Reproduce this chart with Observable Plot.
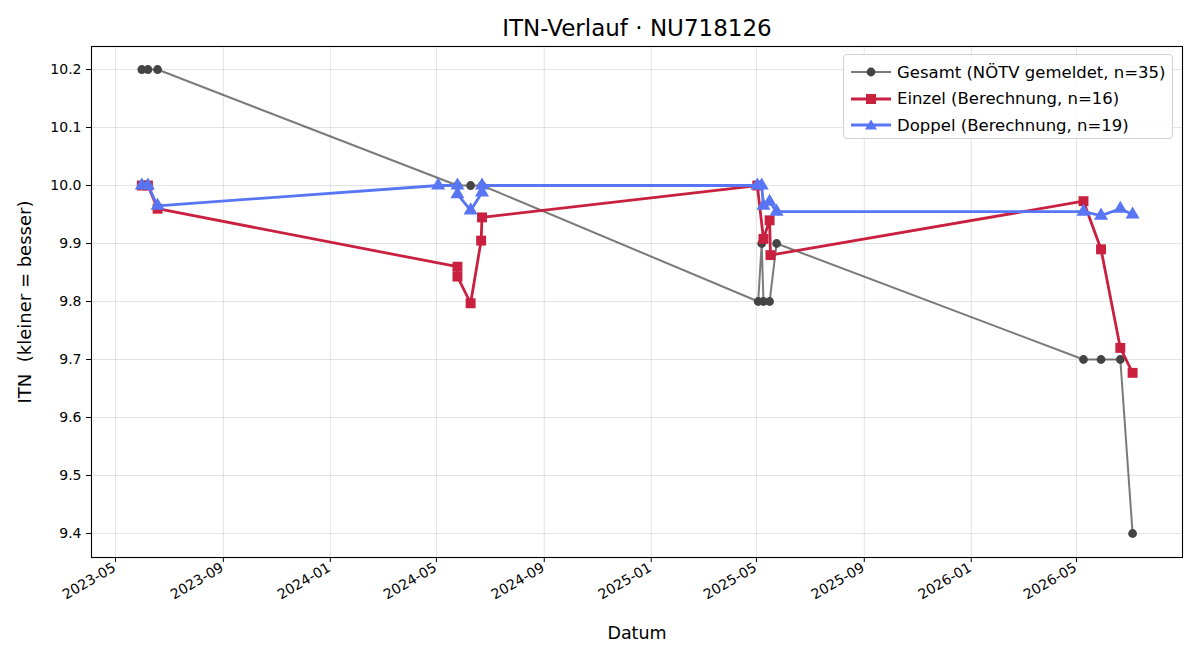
<!DOCTYPE html>
<html>
<head>
<meta charset="utf-8">
<script src="https://cdn.jsdelivr.net/npm/d3@7"></script>
<script src="https://cdn.jsdelivr.net/npm/@observablehq/plot@0.6"></script>
<style>
  html, body { margin: 0; padding: 0; background: white; }
  #wrap { position: relative; width: 1200px; height: 660px; font-family: "DejaVu Sans", sans-serif; }
  #wrap svg text { white-space: pre; }
  #legend {
    position: absolute; left: 843px; top: 54px; width: 330px; height: 85px;
    box-sizing: border-box; border: 1px solid #d0d0d0; border-radius: 4px;
    background: rgba(255,255,255,0.85); padding: 4px 0 0 7px;
    font-family: "DejaVu Sans", sans-serif; font-size: 16.5px; color: #000;
  }
  #legend .row { display: flex; align-items: center; height: 26.5px; }
  #legend .row svg { width: 40px; height: 16px; margin-right: 6px; flex: none; }
</style>
</head>
<body>
<div id="wrap"></div>
<script>
// ---------- data ----------
const titleText = "ITN-Verlauf · NU718126";
const xLabel = "Datum";
const yLabel = "ITN  (kleiner = besser)";

const gesamtName = "Gesamt (NÖTV gemeldet, n=35)";
const gesamtDates = ["2023-05-31","2023-06-07","2023-06-18",
  "2024-05-25","2024-06-09","2024-06-22",
  "2025-05-03","2025-05-07","2025-05-09","2025-05-16","2025-05-24",
  "2026-05-09","2026-05-29","2026-06-20","2026-07-04"];
const gesamtValues = [10.2,10.2,10.2,
  10.0,10.0,10.0,
  9.8,9.9,9.8,9.8,9.9,
  9.7,9.7,9.7,9.4];

const einzelName = "Einzel (Berechnung, n=16)";
const einzelDates = ["2023-05-31","2023-06-07","2023-06-18",
  "2024-05-25","2024-05-25","2024-06-09","2024-06-21","2024-06-22",
  "2025-05-02","2025-05-09","2025-05-16","2025-05-17",
  "2026-05-09","2026-05-29","2026-06-20","2026-07-04"];
const einzelValues = [10.0,10.0,9.96,
  9.86,9.843,9.797,9.905,9.945,
  10.0,9.908,9.94,9.88,
  9.973,9.89,9.72,9.677];

const doppelName = "Doppel (Berechnung, n=19)";
const doppelDates = ["2023-05-31","2023-06-07","2023-06-18",
  "2024-05-03","2024-05-25","2024-05-25","2024-06-09","2024-06-22","2024-06-22",
  "2025-05-02","2025-05-07","2025-05-09","2025-05-16","2025-05-24",
  "2026-05-09","2026-05-29","2026-06-20","2026-07-04"];
const doppelValues = [10.0,10.0,9.965,
  10.0,10.0,9.985,9.957,9.988,10.0,
  10.0,10.0,9.965,9.972,9.955,
  9.955,9.948,9.96,9.95];

const xTickLabels = ["2023-05","2023-09","2024-01","2024-05","2024-09","2025-01","2025-05","2025-09","2026-01","2026-05"];
const yTickLabels = ["9.4","9.5","9.6","9.7","9.8","9.9","10.0","10.1","10.2"];

// ---------- build ----------
const parse = d3.utcParse("%Y-%m-%d");
const rows = (dates, values) => dates.map((d, i) => ({date: parse(d), value: values[i]}));
const gesamt = rows(gesamtDates, gesamtValues);
const einzel = rows(einzelDates, einzelValues);
const doppel = rows(doppelDates, doppelValues);
const xTicks = xTickLabels.map(d3.utcParse("%Y-%m"));
const yTicks = yTickLabels.map(Number);

const C_GRAY_LINE = "#333333", C_GRAY_DOT = "#444444";
const C_RED = "#c8203e", C_BLUE = "#5875f3";

const chart = Plot.plot({
  width: 1200, height: 660,
  marginLeft: 91, marginRight: 18, marginTop: 46, marginBottom: 103,
  style: {fontFamily: "DejaVu Sans, sans-serif", fontSize: "14px", background: "white", color: "black"},
  x: {type: "utc", domain: [new Date("2023-04-03T15:00Z"), new Date("2026-08-29T22:00Z")]},
  y: {domain: [9.3586, 10.2397]},
  marks: [
    Plot.gridX(xTicks, {stroke: "#b0b0b0", strokeOpacity: 0.35, strokeWidth: 1}),
    Plot.gridY(yTicks, {stroke: "#b0b0b0", strokeOpacity: 0.35, strokeWidth: 1}),
    Plot.axisX(xTicks, {tickFormat: () => "", tickSize: 5, label: null}),
    Plot.axisX(xTicks, {tickFormat: d3.utcFormat("%Y-%m"), tickRotate: -30, tickSize: 0, tickPadding: 9, dx: -1, label: null}),
    Plot.axisY(yTicks, {tickFormat: d => d.toFixed(1), tickSize: 5, tickPadding: 5, label: null}),
    Plot.line(gesamt, {x: "date", y: "value", stroke: C_GRAY_LINE, strokeOpacity: 0.65, strokeWidth: 2}),
    Plot.dot(gesamt, {x: "date", y: "value", r: 4.4, fill: C_GRAY_DOT, stroke: null}),
    Plot.line(einzel, {x: "date", y: "value", stroke: C_RED, strokeWidth: 2.8}),
    Plot.dot(einzel, {x: "date", y: "value", symbol: "square", r: 5.6, fill: C_RED, stroke: null}),
    Plot.line(doppel, {x: "date", y: "value", stroke: C_BLUE, strokeWidth: 2.8}),
    Plot.dot(doppel, {x: "date", y: "value", symbol: "triangle", r: 5.2, fill: C_BLUE, stroke: null}),
    Plot.frame({stroke: "black", strokeWidth: 1.1}),
    Plot.text([titleText], {frameAnchor: "top", lineAnchor: "middle", dy: -18, fontSize: 23, fill: "black"}),
    Plot.text([xLabel], {frameAnchor: "bottom", lineAnchor: "middle", dy: 76, fontSize: 17.5, fill: "black"}),
    Plot.text([yLabel], {frameAnchor: "left", textAnchor: "middle", lineAnchor: "middle", dx: -66, rotate: -90, fontSize: 18, fill: "black"})
  ]
});
const wrap = document.getElementById("wrap");
wrap.appendChild(chart);

// legend (HTML overlay)
const legend = document.createElement("div");
legend.id = "legend";
const items = [
  {name: gesamtName, color: C_GRAY_LINE, opacity: 0.65, width: 2, marker: "circle", mfill: C_GRAY_DOT},
  {name: einzelName, color: C_RED, opacity: 1, width: 2.8, marker: "square", mfill: C_RED},
  {name: doppelName, color: C_BLUE, opacity: 1, width: 2.8, marker: "triangle", mfill: C_BLUE}
];
for (const it of items) {
  const row = document.createElement("div");
  row.className = "row";
  let m;
  if (it.marker === "circle") m = `<circle cx="20" cy="8" r="4.4" fill="${it.mfill}"/>`;
  else if (it.marker === "square") m = `<rect x="15" y="3" width="10" height="10" fill="${it.mfill}"/>`;
  else m = `<path d="M20,2.5L26,12.5L14,12.5Z" fill="${it.mfill}"/>`;
  row.innerHTML = `<svg viewBox="0 0 40 16"><line x1="0" x2="40" y1="8" y2="8" stroke="${it.color}" stroke-opacity="${it.opacity}" stroke-width="${it.width}"/>${m}</svg><span>${it.name}</span>`;
  legend.appendChild(row);
}
wrap.appendChild(legend);
</script>
</body>
</html>
